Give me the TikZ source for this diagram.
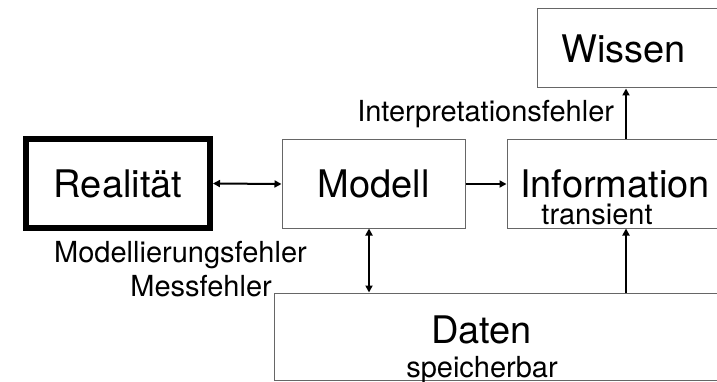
\documentclass[tikz,border=0pt]{standalone}
\usepackage{fontspec}
\setmainfont{TeX Gyre Heros}
\usetikzlibrary{arrows.meta}

\begin{document}
\begin{tikzpicture}[
      x=1pt, y=-1pt,
      box/.style={draw=black!60, line width=1pt, inner sep=0pt, align=center},
      big/.style={font=\fontsize{38}{40}\selectfont},
      lbl/.style={font=\fontsize{29}{31}\selectfont, inner sep=0pt},
      flow/.style={-{Triangle[length=7pt,width=7pt]}, line width=2pt},
      twoway/.style={{Triangle[length=7pt,width=7pt]}-{Triangle[length=7pt,width=7pt]},
                     line width=2pt},
    ]
    \useasboundingbox (0,0) rectangle (717,382);
    \clip (0,0) rectangle (717,382);

    % --- boxes; the right-hand ones run off the page ------------------------
    \node[box, big, draw=black, line width=6pt, minimum width=184pt,
          minimum height=89pt] (realitaet) at (118,183.5) {Realität};
    \node[box, big, minimum width=183pt, minimum height=88pt]
          (modell) at (373.5,184) {Modell};
    \node[box, big, minimum width=216pt, minimum height=88pt]
          (information) at (615,184) {Information};
    \node[box, minimum width=183pt, minimum height=79pt]
          (wissen) at (628.5,48.5) {};
    \node[box, minimum width=456pt, minimum height=87.5pt]
          (daten) at (502,336.75) {};
    \coordinate (col) at (626,0);

    % --- texts in and beside the boxes ---------------------------------------
    \node[big, inner sep=0pt, anchor=base] (wissentxt) at (623.5,63) {Wissen};
    \node[big, inner sep=0pt, anchor=base] (datentxt) at (481.5,343) {Daten};
    \node[lbl, anchor=base] (speicherbar) at (482,377) {speicherbar};
    \node[lbl, anchor=base] (transient) at (597,224) {transient};
    \node[lbl, anchor=base east] (modfehler) at (307,262) {Modellierungsfehler};
    \node[lbl, anchor=base east] (messfehler) at (272,296) {Messfehler};

    % --- connectors -----------------------------------------------------------
    \draw[twoway] (realitaet.east) -- (modell.west);
    \draw[flow] (modell.east) -- (information.west);
    \draw[twoway] ([xshift=-4.5pt]modell.south)
                  -- ([xshift=-4.5pt]modell.south |- daten.north);
    \draw[flow] (daten.north -| col) -- (information.south -| col);
    \draw[flow] (information.north -| col) -- node[lbl, left=11pt]
                {Interpretationsfehler} (wissen.south -| col);
  \end{tikzpicture}
\end{document}
